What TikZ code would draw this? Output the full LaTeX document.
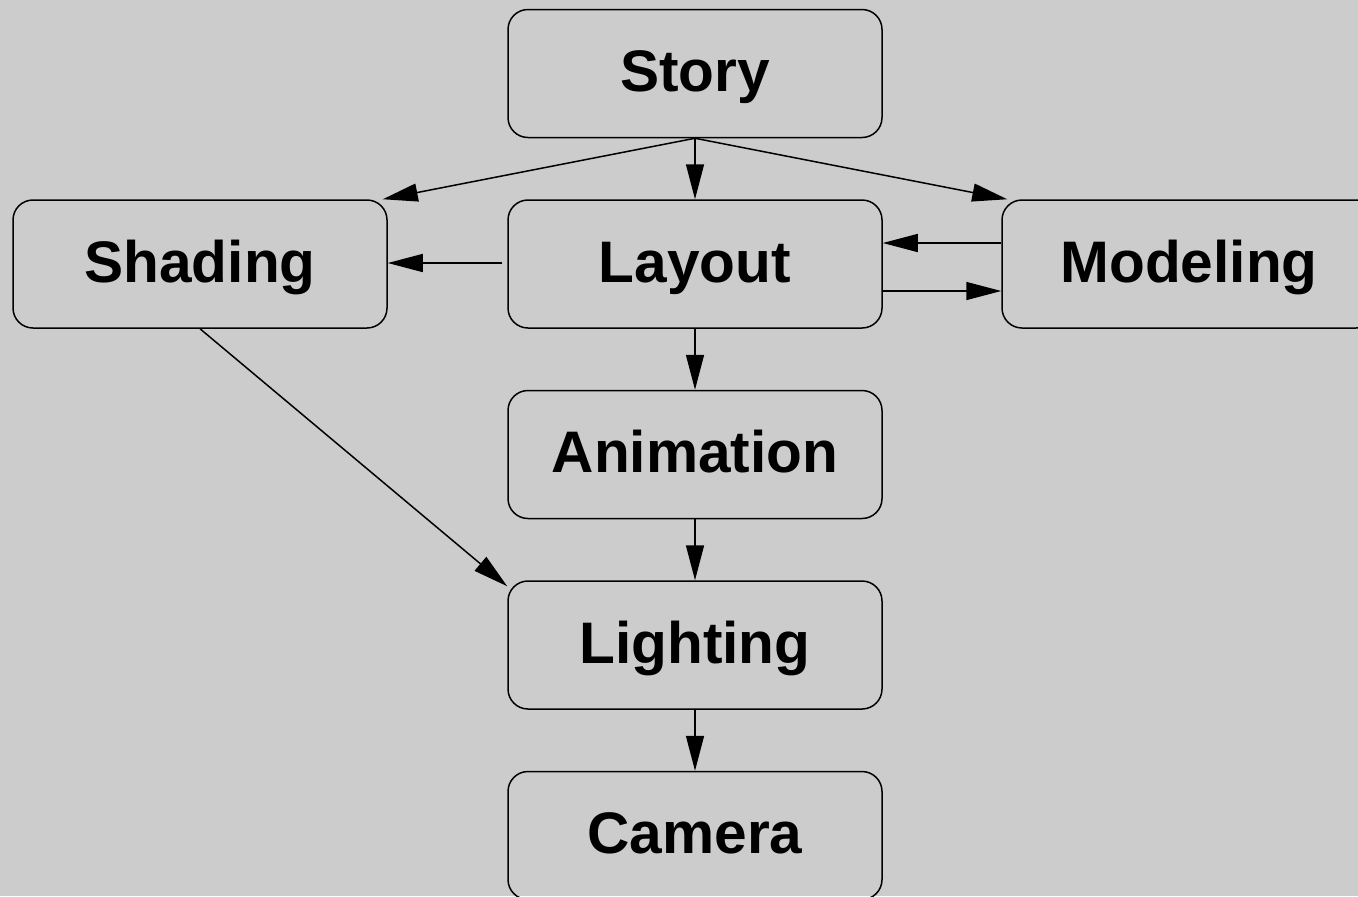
\documentclass[tikz,border=0pt]{standalone}
\usepackage{fontspec}
\setmainfont{Liberation Sans}
\usetikzlibrary{arrows.meta}
\begin{document}
\begin{tikzpicture}[x=0.5pt,y=-0.5pt,
  stagebox/.style={draw=black, line width=0.75pt, rounded corners=10pt,
    minimum width=187pt, minimum height=64pt, inner sep=0pt,
    font=\fontsize{29.3pt}{34pt}\selectfont\bfseries,
    text height=21pt, text depth=3pt},
  flow/.style={draw=black, line width=0.75pt,
    -{Triangle[length=17.5pt,width=9pt]}}]
\fill[fill={rgb,255:red,204;green,204;blue,204}] (0,0) rectangle (1358,896);
\useasboundingbox (0,0) rectangle (1358,896);
\begin{scope}
\clip (0,0) rectangle (1358,896);
\node[stagebox] (story) at (695,73.5) {Story};
\node[stagebox] (shading) at (200,264) {Shading};
\node[stagebox] (layout) at (695,264) {Layout};
\node[stagebox] (modeling) at (1189,264) {Modeling};
\node[stagebox] (animation) at (695,454.5) {Animation};
\node[stagebox] (lighting) at (695,645) {Lighting};
\node[stagebox] (camera) at (695,835.5) {Camera};
\draw[flow] (story.south) -- ([xshift=-2.5pt]shading.north east);
\draw[flow] (story.south) -- (layout.north);
\draw[flow] (story.south) -- ([xshift=3pt]modeling.north west);
\draw[flow] ([xshift=-2.5pt,yshift=0.5pt]layout.west) -- ([yshift=0.5pt]shading.east);
\draw[flow] ([yshift=10.5pt]modeling.west) -- ([yshift=10.5pt]layout.east);
\draw[flow] ([yshift=-13.5pt]layout.east) -- ([yshift=-13.5pt]modeling.west);
\draw[flow] (layout.south) -- (animation.north);
\draw[flow] (shading.south) -- ([yshift=-3pt]lighting.north west);
\draw[flow] (animation.south) -- (lighting.north);
\draw[flow] (lighting.south) -- (camera.north);
\end{scope}
\end{tikzpicture}
\end{document}
